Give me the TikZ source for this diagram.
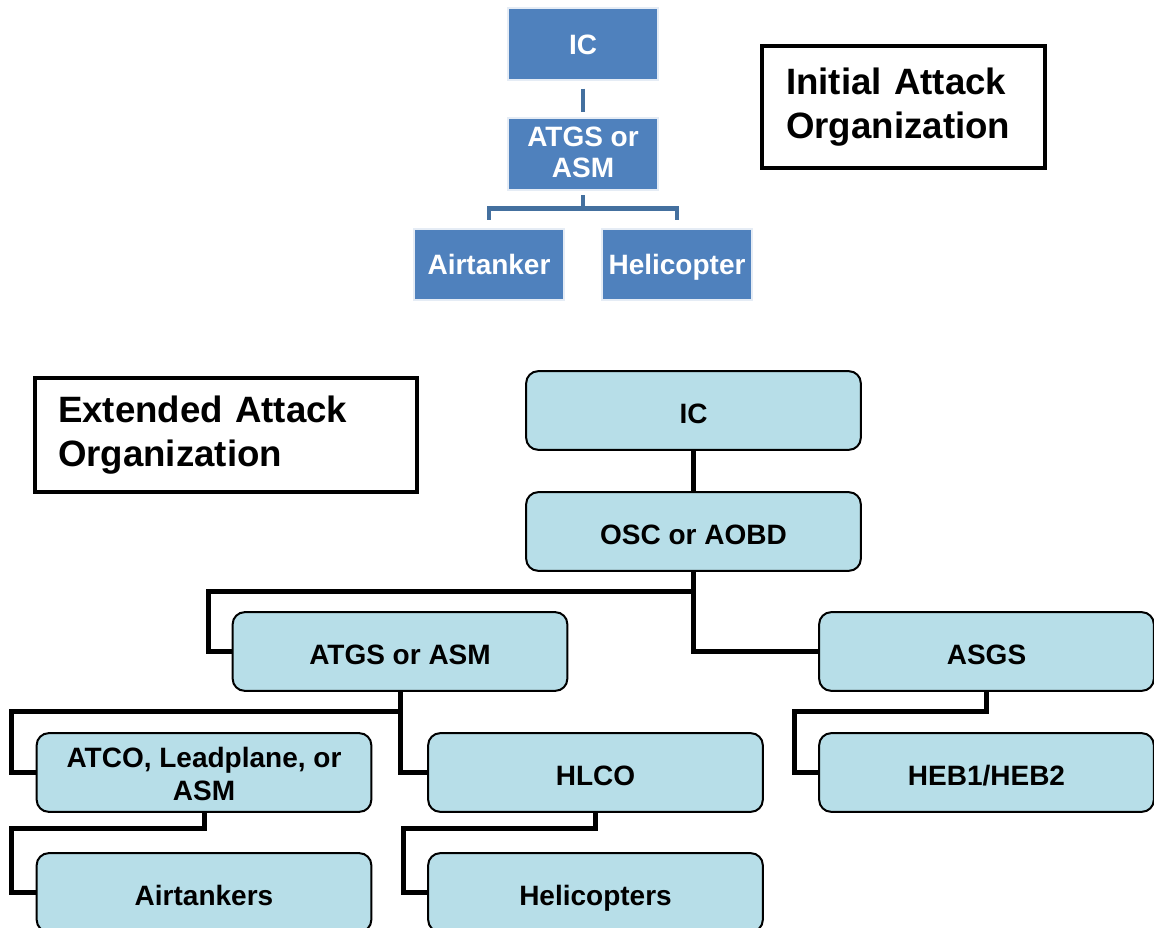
\documentclass[tikz,border=0pt]{standalone}
\usepackage{fontspec}
\setmainfont{Liberation Sans}
\begin{document}
\begin{tikzpicture}[x=0.75pt,y=-0.75pt,
  tbox/.style={rectangle, fill=topblue, draw=white!85!topblue, line width=0.8pt, text=white,
    font=\fontsize{21}{23}\selectfont\bfseries, align=center,
    minimum width=112.5pt, minimum height=54pt, inner sep=0pt},
  tone/.style={execute at begin node={\rule[-5pt]{0pt}{25pt}}},
  ttext/.style={text=white, font=\fontsize{21}{23}\selectfont\bfseries, align=center, inner sep=0pt},
  tconn/.style={draw=topline, line width=3.6pt},
  bbox/.style={rectangle, rounded corners=9pt, fill=lightbox, draw=black, line width=1.5pt,
    font=\fontsize{21}{24.75}\selectfont\bfseries, align=center,
    minimum width=251pt, minimum height=59pt, inner sep=0pt},
  bone/.style={execute at begin node={\rule[-5pt]{0pt}{28.8pt}}},
  btext/.style={font=\fontsize{21}{24.75}\selectfont\bfseries, align=center, inner sep=0pt},
  conn/.style={draw=black, line width=3.75pt, line join=miter},
  titlebox/.style={rectangle, draw=black, line width=3pt, align=left,
    font=\fontsize{27.5}{33}\selectfont\bfseries, inner sep=0pt}
]
\definecolor{topblue}{HTML}{4F81BD}
\definecolor{topline}{HTML}{44709F}
\definecolor{lightbox}{HTML}{B7DEE8}
\useasboundingbox (0,0) rectangle (1154,928);

% Initial attack organization
\node[tbox, tone] (ic1) at (583,44) {IC};
\node[tbox, label={[ttext, yshift=1.1pt]center:{ATGS or\\ASM}}] (atgs1) at (583,154) {};
\node[tbox, tone, minimum height=53.25pt] (air1) at (489,264.5) {Airtanker};
\node[tbox, tone, minimum height=53.25pt] (heli1) at (677,264.5) {Helicopter};
\draw[tconn, shorten <=6pt, shorten >=4pt] (ic1) -- (atgs1);
\draw[tconn] ([yshift=-3.5pt]atgs1.south) -- ++(0,13) -| ([yshift=6pt]air1.north);
\draw[tconn] ([yshift=-3.5pt]atgs1.south) -- ++(0,13) -| ([yshift=6pt]heli1.north);

\node[titlebox, minimum width=212pt, minimum height=91.5pt, text width=176pt] (initt) at (903.5,107)
  {Initial Attack\\Organization};

% Extended attack organization
\node[titlebox, minimum width=286.5pt, minimum height=85.5pt, text width=252pt] (extt) at (226,435)
  {\fontsize{27.5}{34}\selectfont Extended Attack\\Organization};

\node[bbox, bone] (ic2) at (693.5,410.5) {IC};
\node[bbox, bone] (osc) at (693.5,531.5) {OSC or AOBD};
\node[bbox, bone] (atgs2) at (400,651.5) {ATGS or ASM};
\node[bbox, bone] (asgs) at (986.5,651.5) {ASGS};
\node[bbox, label={[btext, yshift=-0.75pt]center:{ATCO, Leadplane, or\\ASM}}] (atco) at (204,772.5) {};
\node[bbox, bone] (hlco) at (595.5,772.5) {HLCO};
\node[bbox, bone] (heb) at (986.5,772.5) {HEB1/HEB2};
\node[bbox, bone] (airt) at (204,892.5) {Airtankers};
\node[bbox, bone] (helis) at (595.5,892.5) {Helicopters};

\draw[conn] (ic2) -- (osc);
\draw[conn] (osc.south) -- ++(0,20) -| ([xshift=-17.5pt]atgs2.west) -- (atgs2.west);
\draw[conn] (osc.south) |- (asgs.west);
\draw[conn] (atgs2.south) -- ++(0,20) -| ([xshift=-18pt]atco.west) -- (atco.west);
\draw[conn] (atgs2.south) |- (hlco.west);
\draw[conn] (atco.south) -- ++(0,16) -| ([xshift=-18pt]airt.west) -- (airt.west);
\draw[conn] (hlco.south) -- ++(0,16) -| ([xshift=-17.5pt]helis.west) -- (helis.west);
\draw[conn] (asgs.south) -- ++(0,20) -| ([xshift=-17.5pt]heb.west) -- (heb.west);
\end{tikzpicture}
\end{document}
